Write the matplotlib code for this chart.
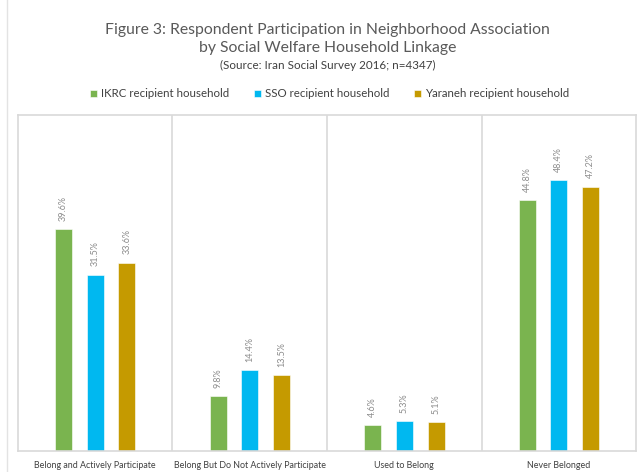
import numpy as np
import matplotlib.pyplot as plt
from matplotlib.lines import Line2D

plt.rcParams['font.family'] = ['Lato', 'DejaVu Sans']

categories = ['Belong and Actively Participate', 'Belong But Do Not Actively Participate',
              'Used to Belong', 'Never Belonged']
series = ['IKRC recipient household', 'SSO recipient household', 'Yaraneh recipient household']
ikrc = [39.6, 9.8, 4.6, 44.8]
sso = [31.5, 14.4, 5.3, 48.4]
yaraneh = [33.6, 13.5, 5.1, 47.2]
colors = ['#7AB44F', '#00B8F0', '#C59A00']

fig = plt.figure(figsize=(6.4, 4.72), dpi=100)
ax = fig.add_axes([0.028, 0.0445, 0.966, 0.712])

x = np.arange(len(categories))
w = 0.11
gap = 0.205
for i, (vals, c) in enumerate(zip([ikrc, sso, yaraneh], colors)):
    pos = x + (i - 1) * gap
    ax.bar(pos, vals, width=w, color=c, edgecolor='white', linewidth=0.4, label=series[i])
    for p, v in zip(pos, vals):
        ax.text(p, v + 1.5, f'{v}%', rotation=90, ha='center', va='bottom',
                fontsize=6.5, color='#8c8c8c')

ax.set_xlim(-0.5, len(categories) - 0.5)
ax.set_ylim(0, 60)
ax.set_yticks([])
ax.set_xticks(x)
ax.set_xticklabels(categories, fontsize=6.4, color='#404040')
ax.tick_params(axis='x', length=0, pad=7)
for s in ax.spines.values():
    s.set_color('#d9d9d9')
    s.set_linewidth(1.2)
for b in x[:-1] + 0.5:
    ax.axvline(b, color='#d9d9d9', linewidth=1.2)

# outer border line on the left
fig.add_artist(Line2D([0.011, 0.011], [0, 1], color='#e3e3e3', linewidth=1.0))

fig.text(0.512, 0.936, 'Figure 3: Respondent Participation in Neighborhood Association',
         ha='center', va='center', fontsize=11.3, color='#595959')
fig.text(0.512, 0.898, 'by Social Welfare Household Linkage',
         ha='center', va='center', fontsize=11.3, color='#595959')
fig.text(0.512, 0.862, '(Source: Iran Social Survey 2016; n=4347)', ha='center', va='center',
         fontsize=8.4, color='#404040')

fig.legend(loc='center', bbox_to_anchor=(0.515, 0.801), ncol=3, frameon=False, fontsize=8.3,
           handlelength=0.6, handleheight=0.6, handletextpad=0.3, columnspacing=2.2,
           labelcolor='#404040')

fig.savefig('out.png', dpi=100)
